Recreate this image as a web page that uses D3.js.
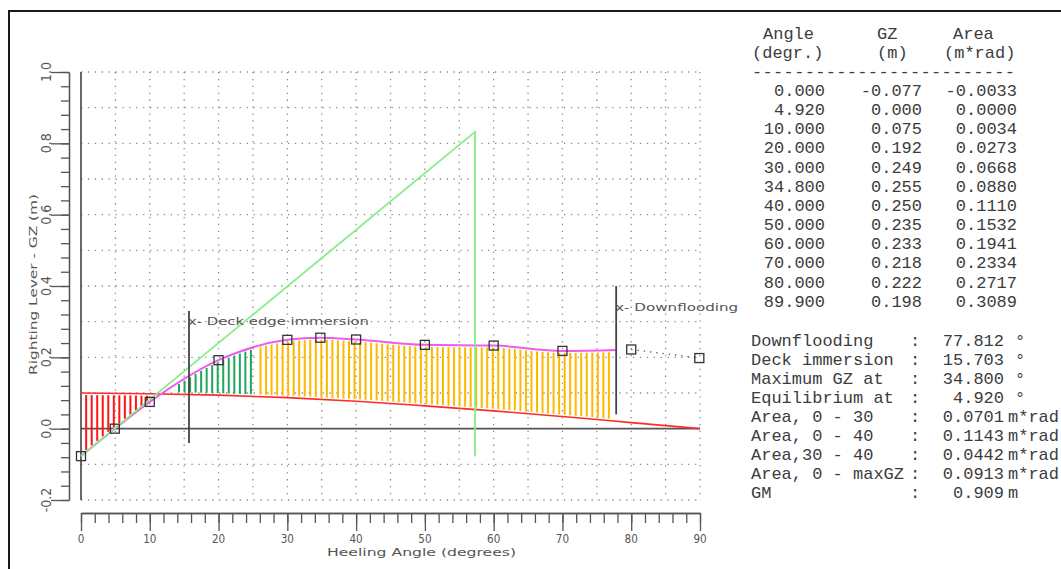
<!DOCTYPE html>
<html><head><meta charset="utf-8">
<script src="https://cdn.jsdelivr.net/npm/d3@7"></script>
<style>html,body{margin:0;padding:0;background:#fff;} svg{display:block;}</style>
</head><body>
<svg id="chart" width="1061" height="569"></svg>
<script>
// Stability table: heel angle, righting lever GZ, area under the GZ curve
const angleDeg = [0, 4.92, 10, 20, 30, 34.8, 40, 50, 60, 70, 80, 89.9];
const gzM = [-0.077, 0.000, 0.075, 0.192, 0.249, 0.255, 0.250, 0.235, 0.233, 0.218, 0.222, 0.198];
const areaMrad = [-0.0033, 0.0000, 0.0034, 0.0273, 0.0668, 0.0880, 0.1110, 0.1532, 0.1941, 0.2334, 0.2717, 0.3089];

// Heeling arm curve
const heelAngles = [0, 10, 20, 30, 40, 50, 60, 70, 80, 90];
const heelArm = [0.100, 0.098, 0.094, 0.087, 0.077, 0.064, 0.050, 0.034, 0.017, 0.000];

// Summary block
const summaryLabels = ["Downflooding", "Deck immersion", "Maximum GZ at", "Equilibrium at",
  "Area, 0 - 30", "Area, 0 - 40", "Area,30 - 40", "Area, 0 - maxGZ", "GM"];
const summaryValues = [77.812, 15.703, 34.800, 4.920, 0.0701, 0.1143, 0.0442, 0.0913, 0.909];
const summaryFormats = [".3f", ".3f", ".3f", ".3f", ".4f", ".4f", ".4f", ".4f", ".3f"];
const summaryUnits = ["°", "°", "°", "°", "m*rad", "m*rad", "m*rad", "m*rad", "m"];

// Axis tick labels
const xTickLabels = [0, 10, 20, 30, 40, 50, 60, 70, 80, 90];
const yTickLabels = [-0.2, 0.0, 0.2, 0.4, 0.6, 0.8, 1.0];

const downflooding = summaryValues[0];
const deckImmersion = summaryValues[1];
const GM = summaryValues[8];

const svg = d3.select("#chart");
svg.append("rect").attr("width", 1061).attr("height", 569).attr("fill", "#fff");
// frame
svg.append("path").attr("d", "M9,569V11H1061").attr("fill", "none").attr("stroke", "#1a1a1a").attr("stroke-width", 2);

const x = d3.scaleLinear().domain([0, 90]).range([81, 700]);
const y = d3.scaleLinear().domain([-0.2, 1.0]).range([500, 72]);

const plotFont = "'DejaVu Sans', sans-serif";
const ink = "#555";

// dotted grid
const grid = svg.append("g").attr("stroke", "#8a8a8a").attr("stroke-width", 1.3)
  .attr("stroke-dasharray", "1.3,5.6").attr("fill", "none");
d3.range(5, 90.1, 5).forEach(a => grid.append("line")
  .attr("x1", x(a)).attr("x2", x(a)).attr("y1", y(1.0)).attr("y2", y(-0.2)));
d3.range(-2, 10.1, 1).filter(v => v !== 0).forEach(v => grid.append("line")
  .attr("x1", x(0)).attr("x2", x(90)).attr("y1", y(v / 10)).attr("y2", y(v / 10)));

// zero line and left border of the plot
svg.append("line").attr("x1", x(0)).attr("x2", x(90)).attr("y1", y(0)).attr("y2", y(0))
  .attr("stroke", "#555").attr("stroke-width", 1.6);
svg.append("line").attr("x1", x(0)).attr("x2", x(0)).attr("y1", y(1.0)).attr("y2", y(-0.2))
  .attr("stroke", "#444").attr("stroke-width", 1.6);

// curves
const gzPts = angleDeg.map((a, i) => [a, gzM[i]]);
const gzMain = gzPts.filter(p => p[0] <= 80);
const heelPts = heelAngles.map((a, i) => [a, heelArm[i]]);
const lineGen = d3.line().x(d => x(d[0])).y(d => y(d[1])).curve(d3.curveMonotoneX);

// hidden paths used to sample the curves for the hatching
const probe = svg.append("g").attr("visibility", "hidden");
function sampler(pts) {
  const p = probe.append("path").attr("d", lineGen(pts)).node();
  const L = p.getTotalLength();
  const s = [];
  for (let l = 0; l <= L; l += 0.5) { const q = p.getPointAtLength(l); s.push([q.x, q.y]); }
  return px => {
    let i = d3.bisector(d => d[0]).left(s, px);
    if (i <= 0) return s[0][1];
    if (i >= s.length) return s[s.length - 1][1];
    const a = s[i - 1], b = s[i];
    const t = (px - a[0]) / ((b[0] - a[0]) || 1);
    return a[1] + t * (b[1] - a[1]);
  };
}
const gzAt = sampler(gzMain);
const heelAt = sampler(heelPts);

// hatched areas between righting lever and heeling arm
const bands = [
  { from: 0.75, to: 9.6, color: "#ff1414" },
  { from: 14.25, to: 25.5, color: "#1fa65a" },
  { from: 26.1, to: 77.3, color: "#ffb800" }
];
const hatch = svg.append("g").attr("stroke-width", 2);
bands.forEach(b => {
  for (let a = b.from; a <= b.to + 1e-6; a += 0.804) {
    const px = x(a);
    const y1 = gzAt(px), y2 = heelAt(px);
    const top = Math.min(y1, y2) + 2, bot = Math.max(y1, y2) - 2;
    if (bot - top < 1) continue;
    hatch.append("line").attr("x1", px).attr("x2", px).attr("y1", top).attr("y2", bot)
      .attr("stroke", b.color);
  }
});

// heeling arm
svg.append("path").attr("d", lineGen(heelPts)).attr("fill", "none")
  .attr("stroke", "#ff2a2a").attr("stroke-width", 1.6);

// GZ curve up to downflooding
svg.append("clipPath").attr("id", "dfclip").append("rect")
  .attr("x", 0).attr("y", 0).attr("width", x(downflooding)).attr("height", 569);
svg.append("path").attr("d", lineGen(gzMain)).attr("fill", "none")
  .attr("stroke", "#ee5cee").attr("stroke-width", 2).attr("clip-path", "url(#dfclip)");
// beyond downflooding: dotted
const gzTail = gzPts.filter(p => p[0] >= 80);
svg.append("path").attr("d", d3.line().x(d => x(d[0])).y(d => y(d[1]))(gzTail))
  .attr("fill", "none").attr("stroke", "#555").attr("stroke-width", 1.3).attr("stroke-dasharray", "1.3,5");

// GM line: slope GM per radian, up to 1 rad, then back down
const rad = 180 / Math.PI;
const gm = [[0, gzM[0]], [rad, gzM[0] + GM], [rad, gzM[0]]];
svg.append("path").attr("d", d3.line().x(d => x(d[0])).y(d => y(d[1]))(gm))
  .attr("fill", "none").attr("stroke", "#86ee86").attr("stroke-width", 1.8);

// markers
svg.append("g").selectAll("rect").data(gzPts).join("rect")
  .attr("x", d => x(d[0]) - 4.5).attr("y", d => y(d[1]) - 4.5)
  .attr("width", 9).attr("height", 9).attr("fill", "none")
  .attr("stroke", "#333").attr("stroke-width", 1.3);

// deck immersion and downflooding markers
function marker(angle, gTop, gBot, text, baseY, len) {
  svg.append("line").attr("x1", x(angle)).attr("x2", x(angle)).attr("y1", y(gTop)).attr("y2", y(gBot))
    .attr("stroke", "#444").attr("stroke-width", 1.8);
  svg.append("text").attr("x", x(angle) - 1).attr("y", baseY).text(text)
    .attr("font-family", plotFont).attr("font-size", 11).attr("fill", ink)
    .attr("textLength", len).attr("lengthAdjust", "spacingAndGlyphs");
}
marker(deckImmersion, 0.33, -0.04, "x- Deck edge immersion", 325, 181);
marker(downflooding, 0.40, 0.04, "x- Downflooding", 311, 123);

// rulers
const axStyle = g => g.attr("color", ink).call(s => s.selectAll("path,line").attr("stroke-width", 1.3));
svg.append("g").attr("transform", "translate(69,0)")
  .call(d3.axisLeft(y).tickValues(d3.range(-0.2, 1.0001, 0.04)).tickSize(8).tickSizeOuter(0).tickFormat(""))
  .call(axStyle);
svg.append("g").attr("transform", "translate(69,0)")
  .call(d3.axisLeft(y).tickValues(yTickLabels).tickSize(18).tickSizeOuter(0).tickFormat(""))
  .call(axStyle);
svg.append("g").attr("transform", "translate(0,513)")
  .call(d3.axisBottom(x).tickValues(d3.range(0, 90.1, 2)).tickSize(10).tickSizeOuter(0).tickFormat(""))
  .call(axStyle);
svg.append("g").attr("transform", "translate(0,513)")
  .call(d3.axisBottom(x).tickValues(xTickLabels).tickSize(18).tickSizeOuter(0).tickFormat(""))
  .call(axStyle);

// tick labels
svg.append("g").selectAll("text").data(xTickLabels).join("text")
  .attr("transform", d => `translate(${x(d)},542.5) scale(0.8,1)`)
  .attr("text-anchor", "middle").attr("font-family", plotFont).attr("font-size", 13)
  .attr("fill", ink).text(d => d);
svg.append("g").selectAll("text").data(yTickLabels).join("text")
  .attr("transform", d => `translate(50.5,${y(d)}) rotate(-90) scale(0.9,1)`)
  .attr("text-anchor", "middle").attr("font-family", plotFont).attr("font-size", 14)
  .attr("fill", ink).text(d => d3.format(".1f")(d).replace("−", "-"));

// axis titles
svg.append("text").attr("x", 327).attr("y", 556).text("Heeling Angle (degrees)")
  .attr("font-family", plotFont).attr("font-size", 11).attr("fill", ink)
  .attr("textLength", 189).attr("lengthAdjust", "spacingAndGlyphs");
svg.append("text").attr("transform", "translate(37,375) rotate(-90)").text("Righting Lever - GZ (m)")
  .attr("font-family", plotFont).attr("font-size", 11).attr("fill", ink)
  .attr("textLength", 181).attr("lengthAdjust", "spacingAndGlyphs");

// table
const mono = "'Liberation Mono', 'Courier New', monospace";
const tbl = svg.append("g").attr("font-family", mono).attr("font-size", 17).attr("fill", "#3c3c3c");
const fmt = f => v => d3.format(f)(v).replace("−", "-");
tbl.append("text").attr("x", 763).attr("y", 39).text("Angle");
tbl.append("text").attr("x", 877).attr("y", 39).text("GZ");
tbl.append("text").attr("x", 953).attr("y", 39).text("Area");
tbl.append("text").attr("x", 752).attr("y", 58).text("(degr.)");
tbl.append("text").attr("x", 877).attr("y", 58).text("(m)");
tbl.append("text").attr("x", 944).attr("y", 58).text("(m*rad)");
tbl.append("text").attr("x", 752).attr("y", 77).text("-".repeat(25))
  .attr("textLength", 263).attr("lengthAdjust", "spacing");
const rowY = i => 96 + i * 19.15;
angleDeg.forEach((a, i) => {
  tbl.append("text").attr("x", 825).attr("y", rowY(i)).attr("text-anchor", "end").text(fmt(".3f")(a));
  tbl.append("text").attr("x", 922).attr("y", rowY(i)).attr("text-anchor", "end").text(fmt(".3f")(gzM[i]));
  tbl.append("text").attr("x", 1017).attr("y", rowY(i)).attr("text-anchor", "end").text(fmt(".4f")(areaMrad[i]));
});

// summary
const sumY = i => 345.5 + i * 19.05;
summaryLabels.forEach((lab, i) => {
  tbl.append("text").attr("x", 751).attr("y", sumY(i)).text(lab);
  tbl.append("text").attr("x", 915).attr("y", sumY(i)).attr("text-anchor", "middle").text(":");
  tbl.append("text").attr("x", 1004).attr("y", sumY(i)).attr("text-anchor", "end")
    .text(fmt(summaryFormats[i])(summaryValues[i]));
  tbl.append("text").attr("x", summaryUnits[i] === "°" ? 1015 : 1008).attr("y", sumY(i)).text(summaryUnits[i]);
});
</script>
</body></html>
